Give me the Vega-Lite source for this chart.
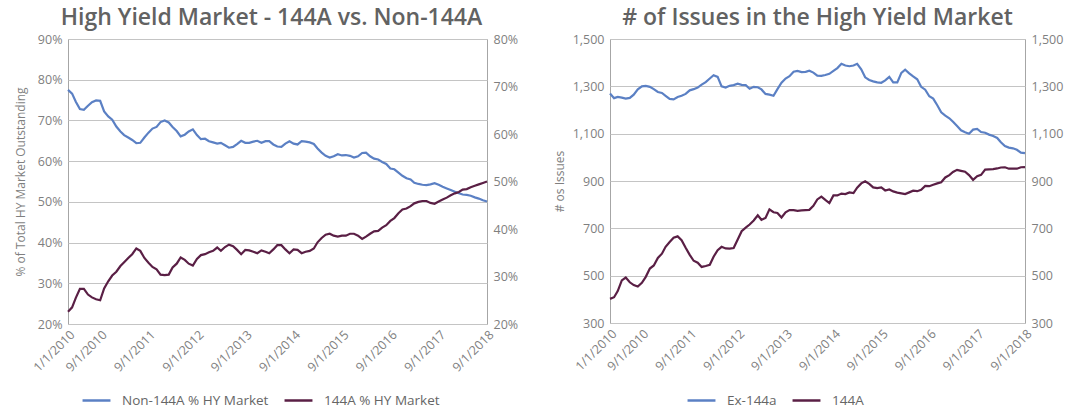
{
  "$schema": "https://vega.github.io/schema/vega-lite/v6.json",
  "background": "white",
  "padding": {"left": 13, "top": 6, "right": 5, "bottom": 5},
  "config": {
    "font": "Open Sans",
    "view": {"stroke": "#a6a6a6", "strokeWidth": 1},
    "axis": {"labelColor": "#7f7f7f", "labelFontSize": 12.5, "titleColor": "#7f7f7f", "titleFontSize": 12, "titleFontWeight": "normal", "ticks": false, "domain": false, "gridColor": "#c4c4c4", "labelPadding": 6},
    "title": {"fontSize": 23, "color": "#626262", "fontWeight": 600, "anchor": "middle", "frame": "group", "offset": 3},
    "legend": {"orient": "none", "direction": "horizontal", "title": null, "symbolType": "stroke", "symbolSize": 780, "symbolStrokeWidth": 2.5, "labelFontSize": 13.5, "labelColor": "#666666", "labelOffset": 10, "columnPadding": 10},
    "concat": {"spacing": 33}
  },
  "datasets": {
    "hy": [
      {"d": "2010-01-01", "non": 77.5, "a": 22.6, "ex": 1270, "n": 402},
      {"d": "2010-02-01", "non": 76.6, "a": 23.5, "ex": 1250, "n": 409},
      {"d": "2010-03-01", "non": 74.6, "a": 25.5, "ex": 1255, "n": 435},
      {"d": "2010-04-01", "non": 72.8, "a": 27.4, "ex": 1252, "n": 480},
      {"d": "2010-05-01", "non": 72.6, "a": 27.4, "ex": 1248, "n": 492},
      {"d": "2010-06-01", "non": 73.6, "a": 26.2, "ex": 1251, "n": 472},
      {"d": "2010-07-01", "non": 74.5, "a": 25.6, "ex": 1265, "n": 460},
      {"d": "2010-08-01", "non": 74.9, "a": 25.2, "ex": 1287, "n": 454},
      {"d": "2010-09-01", "non": 74.8, "a": 25.0, "ex": 1300, "n": 470},
      {"d": "2010-10-01", "non": 72.2, "a": 27.5, "ex": 1302, "n": 495},
      {"d": "2010-11-01", "non": 71.0, "a": 29.0, "ex": 1298, "n": 530},
      {"d": "2010-12-01", "non": 70.2, "a": 30.2, "ex": 1288, "n": 543},
      {"d": "2011-01-01", "non": 68.5, "a": 31.0, "ex": 1276, "n": 575},
      {"d": "2011-02-01", "non": 67.3, "a": 32.2, "ex": 1272, "n": 593},
      {"d": "2011-03-01", "non": 66.4, "a": 33.0, "ex": 1260, "n": 622},
      {"d": "2011-04-01", "non": 65.8, "a": 33.9, "ex": 1247, "n": 642},
      {"d": "2011-05-01", "non": 65.2, "a": 34.7, "ex": 1245, "n": 660},
      {"d": "2011-06-01", "non": 64.4, "a": 35.9, "ex": 1255, "n": 666},
      {"d": "2011-07-01", "non": 64.5, "a": 35.4, "ex": 1260, "n": 650},
      {"d": "2011-08-01", "non": 65.8, "a": 33.9, "ex": 1268, "n": 618},
      {"d": "2011-09-01", "non": 67.0, "a": 32.9, "ex": 1283, "n": 588},
      {"d": "2011-10-01", "non": 68.0, "a": 32.0, "ex": 1288, "n": 563},
      {"d": "2011-11-01", "non": 68.4, "a": 31.5, "ex": 1295, "n": 555},
      {"d": "2011-12-01", "non": 69.6, "a": 30.4, "ex": 1307, "n": 537},
      {"d": "2012-01-01", "non": 70.0, "a": 30.3, "ex": 1318, "n": 541},
      {"d": "2012-02-01", "non": 69.5, "a": 30.4, "ex": 1333, "n": 546},
      {"d": "2012-03-01", "non": 68.4, "a": 31.9, "ex": 1347, "n": 580},
      {"d": "2012-04-01", "non": 67.4, "a": 32.7, "ex": 1340, "n": 608},
      {"d": "2012-05-01", "non": 66.1, "a": 34.0, "ex": 1300, "n": 622},
      {"d": "2012-06-01", "non": 66.5, "a": 33.5, "ex": 1295, "n": 615},
      {"d": "2012-07-01", "non": 67.3, "a": 32.7, "ex": 1302, "n": 614},
      {"d": "2012-08-01", "non": 67.8, "a": 32.3, "ex": 1305, "n": 617},
      {"d": "2012-09-01", "non": 66.4, "a": 33.7, "ex": 1311, "n": 653},
      {"d": "2012-10-01", "non": 65.4, "a": 34.5, "ex": 1306, "n": 688},
      {"d": "2012-11-01", "non": 65.5, "a": 34.7, "ex": 1305, "n": 703},
      {"d": "2012-12-01", "non": 64.9, "a": 35.1, "ex": 1290, "n": 716},
      {"d": "2013-01-01", "non": 64.6, "a": 35.4, "ex": 1298, "n": 733},
      {"d": "2013-02-01", "non": 64.3, "a": 36.1, "ex": 1296, "n": 755},
      {"d": "2013-03-01", "non": 64.5, "a": 35.4, "ex": 1287, "n": 736},
      {"d": "2013-04-01", "non": 63.9, "a": 36.2, "ex": 1268, "n": 744},
      {"d": "2013-05-01", "non": 63.3, "a": 36.7, "ex": 1265, "n": 780},
      {"d": "2013-06-01", "non": 63.5, "a": 36.4, "ex": 1260, "n": 768},
      {"d": "2013-07-01", "non": 64.2, "a": 35.6, "ex": 1288, "n": 765},
      {"d": "2013-08-01", "non": 65.0, "a": 34.7, "ex": 1315, "n": 746},
      {"d": "2013-09-01", "non": 64.5, "a": 35.6, "ex": 1333, "n": 768},
      {"d": "2013-10-01", "non": 64.5, "a": 35.5, "ex": 1343, "n": 777},
      {"d": "2013-11-01", "non": 64.8, "a": 35.2, "ex": 1362, "n": 777},
      {"d": "2013-12-01", "non": 65.0, "a": 34.9, "ex": 1365, "n": 774},
      {"d": "2014-01-01", "non": 64.5, "a": 35.5, "ex": 1360, "n": 776},
      {"d": "2014-02-01", "non": 64.9, "a": 35.2, "ex": 1361, "n": 777},
      {"d": "2014-03-01", "non": 64.9, "a": 34.9, "ex": 1366, "n": 778},
      {"d": "2014-04-01", "non": 64.1, "a": 35.7, "ex": 1358, "n": 795},
      {"d": "2014-05-01", "non": 63.6, "a": 36.6, "ex": 1345, "n": 822},
      {"d": "2014-06-01", "non": 63.5, "a": 36.6, "ex": 1344, "n": 834},
      {"d": "2014-07-01", "non": 64.3, "a": 35.7, "ex": 1348, "n": 820},
      {"d": "2014-08-01", "non": 64.9, "a": 34.9, "ex": 1353, "n": 807},
      {"d": "2014-09-01", "non": 64.3, "a": 35.7, "ex": 1365, "n": 839},
      {"d": "2014-10-01", "non": 64.1, "a": 35.6, "ex": 1377, "n": 839},
      {"d": "2014-11-01", "non": 64.9, "a": 34.9, "ex": 1395, "n": 847},
      {"d": "2014-12-01", "non": 64.8, "a": 35.2, "ex": 1388, "n": 845},
      {"d": "2015-01-01", "non": 64.6, "a": 35.4, "ex": 1385, "n": 852},
      {"d": "2015-02-01", "non": 64.2, "a": 35.9, "ex": 1388, "n": 849},
      {"d": "2015-03-01", "non": 63.1, "a": 37.2, "ex": 1395, "n": 872},
      {"d": "2015-04-01", "non": 62.1, "a": 38.1, "ex": 1372, "n": 890},
      {"d": "2015-05-01", "non": 61.3, "a": 38.8, "ex": 1338, "n": 899},
      {"d": "2015-06-01", "non": 60.9, "a": 39.0, "ex": 1327, "n": 888},
      {"d": "2015-07-01", "non": 61.2, "a": 38.6, "ex": 1321, "n": 873},
      {"d": "2015-08-01", "non": 61.7, "a": 38.4, "ex": 1317, "n": 870},
      {"d": "2015-09-01", "non": 61.4, "a": 38.6, "ex": 1315, "n": 873},
      {"d": "2015-10-01", "non": 61.5, "a": 38.6, "ex": 1325, "n": 860},
      {"d": "2015-11-01", "non": 61.3, "a": 39.0, "ex": 1340, "n": 864},
      {"d": "2015-12-01", "non": 60.9, "a": 39.0, "ex": 1317, "n": 856},
      {"d": "2016-01-01", "non": 61.2, "a": 38.6, "ex": 1317, "n": 851},
      {"d": "2016-02-01", "non": 62.0, "a": 37.9, "ex": 1357, "n": 848},
      {"d": "2016-03-01", "non": 62.1, "a": 38.4, "ex": 1370, "n": 845},
      {"d": "2016-04-01", "non": 61.2, "a": 39.0, "ex": 1355, "n": 852},
      {"d": "2016-05-01", "non": 60.6, "a": 39.5, "ex": 1342, "n": 859},
      {"d": "2016-06-01", "non": 60.4, "a": 39.6, "ex": 1330, "n": 857},
      {"d": "2016-07-01", "non": 59.8, "a": 40.3, "ex": 1298, "n": 863},
      {"d": "2016-08-01", "non": 59.3, "a": 40.8, "ex": 1286, "n": 879},
      {"d": "2016-09-01", "non": 58.2, "a": 41.7, "ex": 1258, "n": 878},
      {"d": "2016-10-01", "non": 58.0, "a": 42.3, "ex": 1248, "n": 884},
      {"d": "2016-11-01", "non": 57.2, "a": 43.3, "ex": 1220, "n": 890},
      {"d": "2016-12-01", "non": 56.4, "a": 44.1, "ex": 1190, "n": 895},
      {"d": "2017-01-01", "non": 55.8, "a": 44.3, "ex": 1176, "n": 915},
      {"d": "2017-02-01", "non": 55.5, "a": 44.8, "ex": 1165, "n": 925},
      {"d": "2017-03-01", "non": 54.7, "a": 45.4, "ex": 1150, "n": 938},
      {"d": "2017-04-01", "non": 54.4, "a": 45.7, "ex": 1132, "n": 947},
      {"d": "2017-05-01", "non": 54.2, "a": 45.9, "ex": 1114, "n": 943},
      {"d": "2017-06-01", "non": 54.1, "a": 45.9, "ex": 1106, "n": 939},
      {"d": "2017-07-01", "non": 54.3, "a": 45.5, "ex": 1100, "n": 925},
      {"d": "2017-08-01", "non": 54.6, "a": 45.3, "ex": 1117, "n": 905},
      {"d": "2017-09-01", "non": 54.2, "a": 45.8, "ex": 1120, "n": 920},
      {"d": "2017-10-01", "non": 53.7, "a": 46.2, "ex": 1107, "n": 926},
      {"d": "2017-11-01", "non": 53.3, "a": 46.6, "ex": 1104, "n": 948},
      {"d": "2017-12-01", "non": 52.9, "a": 47.1, "ex": 1096, "n": 949},
      {"d": "2018-01-01", "non": 52.5, "a": 47.5, "ex": 1090, "n": 950},
      {"d": "2018-02-01", "non": 52.1, "a": 47.8, "ex": 1082, "n": 953},
      {"d": "2018-03-01", "non": 51.8, "a": 48.3, "ex": 1064, "n": 957},
      {"d": "2018-04-01", "non": 51.7, "a": 48.4, "ex": 1048, "n": 958},
      {"d": "2018-05-01", "non": 51.5, "a": 48.8, "ex": 1041, "n": 952},
      {"d": "2018-06-01", "non": 51.1, "a": 49.1, "ex": 1038, "n": 952},
      {"d": "2018-07-01", "non": 50.8, "a": 49.4, "ex": 1032, "n": 952},
      {"d": "2018-08-01", "non": 50.4, "a": 49.7, "ex": 1020, "n": 958},
      {"d": "2018-09-01", "non": 50.1, "a": 50.0, "ex": 1018, "n": 959}
    ]
  },
  "hconcat": [
    {
      "title": {"text": "High Yield Market - 144A vs. Non-144A", "dx": -6},
      "width": 419,
      "height": 285,
      "data": {"name": "hy"},
      "layer": [
        {
          "mark": {"type": "line", "strokeWidth": 2.2},
          "encoding": {
            "x": {"field": "d", "type": "temporal", "scale": {"type": "utc"},
              "axis": {"title": null, "grid": false, "labelAngle": -45, "format": "%-m/%-d/%Y", "labelPadding": 4, "labelOverlap": false,
                "values": [{"year": 2010, "month": 1, "date": 1, "utc": true}, {"year": 2010, "month": 9, "date": 1, "utc": true}, {"year": 2011, "month": 9, "date": 1, "utc": true}, {"year": 2012, "month": 9, "date": 1, "utc": true}, {"year": 2013, "month": 9, "date": 1, "utc": true}, {"year": 2014, "month": 9, "date": 1, "utc": true}, {"year": 2015, "month": 9, "date": 1, "utc": true}, {"year": 2016, "month": 9, "date": 1, "utc": true}, {"year": 2017, "month": 9, "date": 1, "utc": true}, {"year": 2018, "month": 9, "date": 1, "utc": true}]}},
            "y": {"field": "non", "type": "quantitative", "scale": {"domain": [20, 90], "nice": false, "zero": false},
              "axis": {"title": "% of Total HY Market Outstanding", "titlePadding": 10, "values": [20, 30, 40, 50, 60, 70, 80, 90], "labelExpr": "datum.value + '%'", "grid": true}},
            "color": {"datum": "Non-144A % HY Market", "type": "nominal",
              "scale": {"domain": ["Non-144A % HY Market", "144A % HY Market"], "range": ["#5b80c4", "#5a1f45"]},
              "legend": {"legendX": 13, "legendY": 346}}
          }
        },
        {
          "mark": {"type": "line", "strokeWidth": 2.2},
          "encoding": {
            "x": {"field": "d", "type": "temporal", "scale": {"type": "utc"}},
            "y": {"field": "a", "type": "quantitative", "scale": {"domain": [20, 80], "nice": false, "zero": false},
              "axis": {"orient": "right", "title": null, "values": [20, 30, 40, 50, 60, 70, 80], "labelExpr": "datum.value + '%'", "grid": false}},
            "color": {"datum": "144A % HY Market", "type": "nominal"}
          }
        }
      ],
      "resolve": {"scale": {"y": "independent"}}
    },
    {
      "title": {"text": "# of Issues in the High Yield Market"},
      "width": 415,
      "height": 284,
      "data": {"name": "hy"},
      "layer": [
        {
          "mark": {"type": "line", "strokeWidth": 2.2},
          "encoding": {
            "x": {"field": "d", "type": "temporal", "scale": {"type": "utc"},
              "axis": {"title": null, "grid": false, "labelAngle": -45, "format": "%-m/%-d/%Y", "labelPadding": 4, "labelOverlap": false,
                "values": [{"year": 2010, "month": 1, "date": 1, "utc": true}, {"year": 2010, "month": 9, "date": 1, "utc": true}, {"year": 2011, "month": 9, "date": 1, "utc": true}, {"year": 2012, "month": 9, "date": 1, "utc": true}, {"year": 2013, "month": 9, "date": 1, "utc": true}, {"year": 2014, "month": 9, "date": 1, "utc": true}, {"year": 2015, "month": 9, "date": 1, "utc": true}, {"year": 2016, "month": 9, "date": 1, "utc": true}, {"year": 2017, "month": 9, "date": 1, "utc": true}, {"year": 2018, "month": 9, "date": 1, "utc": true}]}},
            "y": {"field": "ex", "type": "quantitative", "scale": {"domain": [300, 1500], "nice": false, "zero": false},
              "axis": {"title": "# os Issues", "titlePadding": 6, "values": [300, 500, 700, 900, 1100, 1300, 1500], "labelExpr": "format(datum.value, ',.0f')", "grid": true}},
            "color": {"datum": "Ex-144a", "type": "nominal",
              "scale": {"domain": ["Ex-144a", "144A"], "range": ["#5b80c4", "#5a1f45"]},
              "legend": {"legendX": 76, "legendY": 346}}
          }
        },
        {
          "mark": {"type": "line", "strokeWidth": 2.2},
          "encoding": {
            "x": {"field": "d", "type": "temporal", "scale": {"type": "utc"}},
            "y": {"field": "n", "type": "quantitative", "scale": {"domain": [300, 1500], "nice": false, "zero": false},
              "axis": {"orient": "right", "title": null, "values": [300, 500, 700, 900, 1100, 1300, 1500], "labelExpr": "format(datum.value, ',.0f')", "grid": false}},
            "color": {"datum": "144A", "type": "nominal"}
          }
        }
      ],
      "resolve": {"scale": {"y": "independent"}}
    }
  ],
  "resolve": {"scale": {"color": "independent"}}
}
